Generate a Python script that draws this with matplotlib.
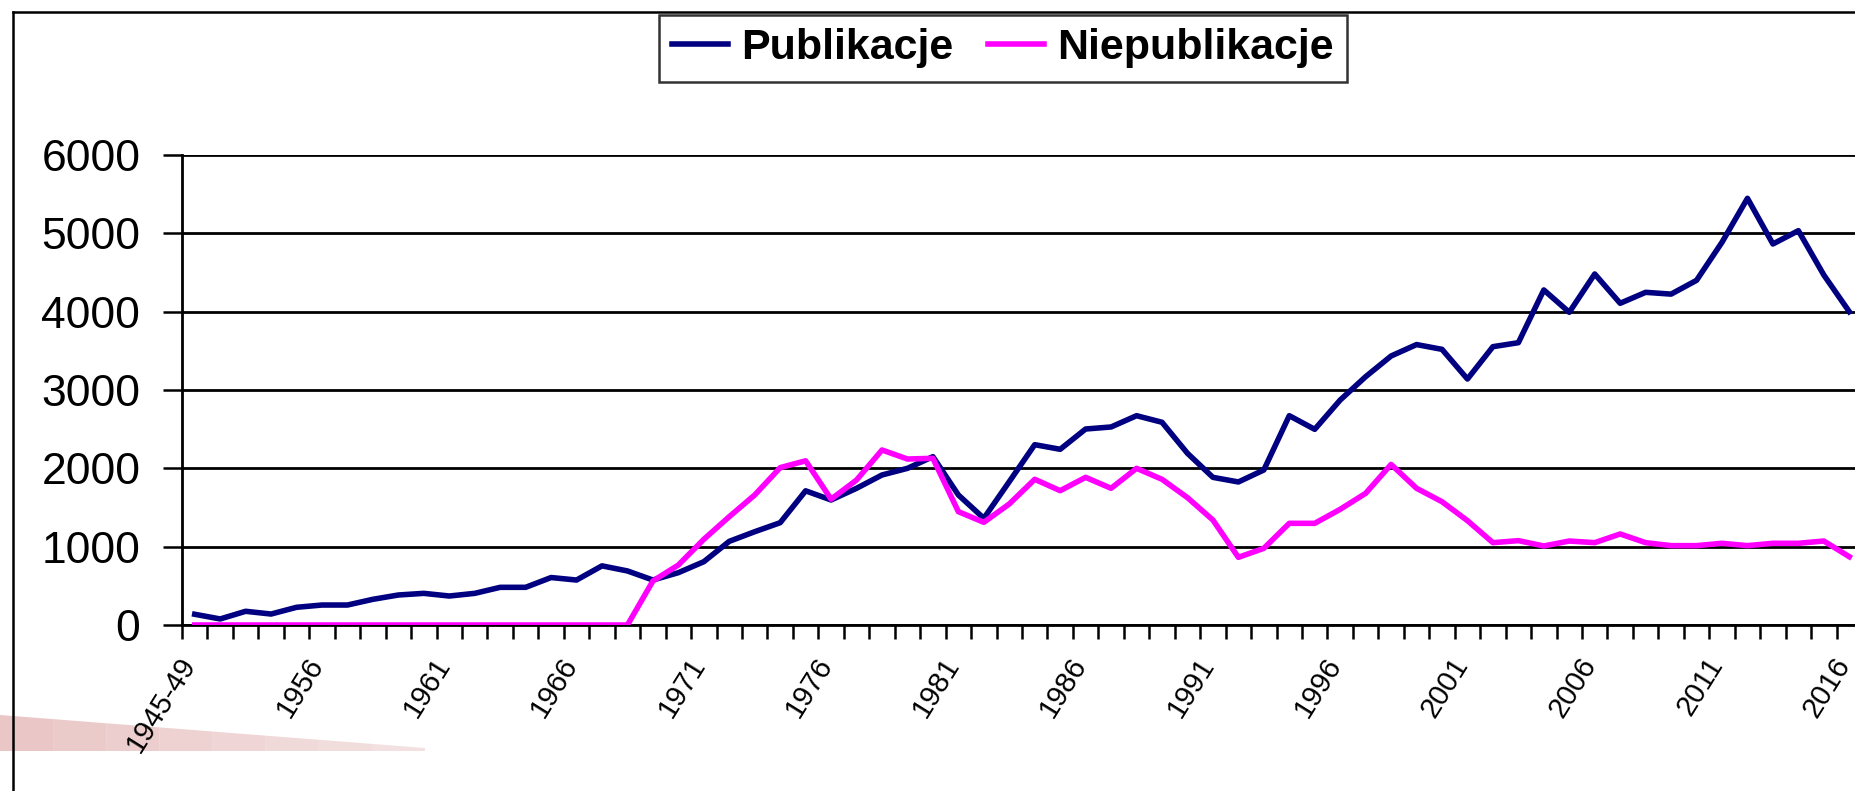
import matplotlib
matplotlib.use("Agg")
import matplotlib.pyplot as plt
from matplotlib.lines import Line2D
from matplotlib.patches import Polygon
from matplotlib.transforms import ScaledTranslation
import numpy as np

plt.rcParams['font.family'] = ['Liberation Sans', 'DejaVu Sans']

# categories (only every 5th label is shown on the axis)
years = ["1945-49"] + [str(y) for y in range(1952, 2017)]

publikacje = [137, 77, 175, 140, 226, 255, 255, 328, 383, 404,
              370, 404, 481, 481, 606, 574, 755, 690, 574, 668,
              808, 1068, 1191, 1306, 1713, 1596, 1745, 1915, 2000, 2149,
              1660, 1362, 1830, 2302, 2243, 2502, 2528, 2672, 2588, 2192,
              1885, 1826, 1979, 2672, 2498, 2872, 3170, 3434, 3580, 3519,
              3140, 3553, 3604, 4277, 3992, 4481, 4107, 4247, 4224, 4400,
              4886, 5447, 4864, 5034, 4468, 4000]

niepublikacje = [0, 0, 0, 0, 0, 0, 0, 0, 0, 0,
                 0, 0, 0, 0, 0, 0, 0, 0, 562, 766,
                 1094, 1383, 1660, 2009, 2096, 1606, 1851, 2234, 2119, 2128,
                 1447, 1311, 1545, 1860, 1715, 1885, 1745, 2000, 1860, 1626,
                 1340, 864, 979, 1298, 1298, 1477, 1681, 2050, 1745, 1574,
                 1332, 1051, 1077, 1009, 1072, 1051, 1162, 1051, 1013, 1013,
                 1043, 1013, 1043, 1043, 1072, 872]

W, H = 1855, 791
fig = plt.figure(figsize=(W / 100, H / 100), dpi=100)
fig.patch.set_facecolor('white')

# faint reddish wedge in the lower left corner, fading to the right
for i in range(8):
    x0 = i * 425 / 8
    x1 = (i + 1) * 425 / 8
    top0 = 715 + 33 * x0 / 425
    top1 = 715 + 33 * x1 / 425
    pts = [(x0 / W, 1 - top0 / H), (x1 / W, 1 - top1 / H), (x1 / W, 1 - 751 / H), (x0 / W, 1 - 751 / H)]
    fig.add_artist(Polygon(pts, closed=True, transform=fig.transFigure,
                           facecolor='#e3b4b4', alpha=0.75 - 0.05 * i, edgecolor='none', zorder=0))

# chart area border (top and left edges visible)
fig.add_artist(Line2D([12.5 / W, 1.0], [1 - 12 / H, 1 - 12 / H], transform=fig.transFigure, color='black', lw=1.8))
fig.add_artist(Line2D([12.5 / W, 12.5 / W], [0, 1 - 12 / H], transform=fig.transFigure, color='black', lw=1.8))

ax = fig.add_axes([182 / W, 1 - 625 / H, 1680 / W, 470 / H])
ax.set_facecolor('none')

x = np.arange(len(years))
ax.plot(x, publikacje, color='#000080', lw=4.0, label='Publikacje', zorder=3)
ax.plot(x, niepublikacje, color='#FF00FF', lw=4.0, label='Niepublikacje', zorder=3)

ax.set_xlim(-0.5, len(years) - 0.5)
ax.set_ylim(0, 6000)
ax.set_yticks(range(0, 6001, 1000))
ax.yaxis.grid(True, color='black', lw=2.0)
ax.set_axisbelow(True)

ax.set_xticks(x[::5])
ax.set_xticklabels(years[::5], rotation=58, ha='right', va='center', rotation_mode='anchor')
ax.set_xticks(np.arange(-0.5, len(years)), minor=True)
ax.tick_params(axis='x', which='major', length=0, pad=25, labelsize=21)
ax.tick_params(axis='x', which='minor', length=10, width=1.8, direction='out')
ax.tick_params(axis='y', length=14, width=1.8, pad=16, labelsize=32)
# nudge the rotated labels a little to the left
shift = ScaledTranslation(-5 / 100, 0, fig.dpi_scale_trans)
for lbl in ax.get_xticklabels():
    lbl.set_transform(lbl.get_transform() + shift)

for s in ['top', 'right']:
    ax.spines[s].set_visible(False)
ax.spines['left'].set_linewidth(2.0)
ax.spines['bottom'].set_linewidth(2.0)

leg = fig.legend(loc='center', bbox_to_anchor=(1003 / W, 1 - 48.5 / H), ncol=2,
                 prop={'weight': 'bold', 'size': 31}, frameon=True, fancybox=False,
                 edgecolor='black', handlelength=1.3, handletextpad=0.3, columnspacing=0.8,
                 borderpad=0.32)
leg.get_frame().set_linewidth(1.8)

fig.savefig('out.png', dpi=100, facecolor='white')
